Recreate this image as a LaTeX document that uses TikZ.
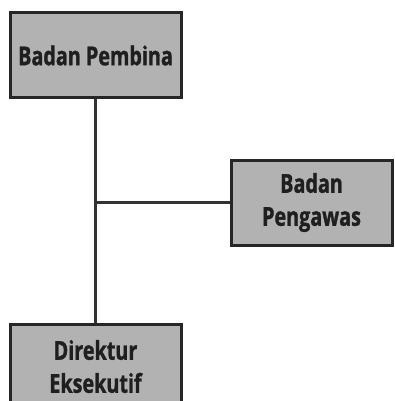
\documentclass[tikz,border=0pt]{standalone}
\usepackage{fontspec}
\setmainfont{Open Sans}[FakeStretch=0.76, BoldFeatures={FakeBold=1.2}]
\usetikzlibrary{positioning}

\begin{document}
\begin{tikzpicture}[x=1pt,y=-1pt,
  block/.style={draw=black!85, fill=black!30, line width=3pt, rectangle,
    minimum width=171pt, minimum height=85pt, align=center,
    font=\bfseries\fontsize{26}{33}\selectfont, text=black!88},
  link/.style={draw=black!80, line width=2.5pt}
]
    \useasboundingbox (0,0) rectangle (394,401);

    \node [block] (pembina) at (95.5,55.5) {Badan Pembina};

    \node [block, minimum width=161pt] (pengawas) at (311.5,202.5) {Badan\\Pengawas};

    \node [block] (direktur) at (95.5,366.5) {Direktur\\Eksekutif};

  \coordinate (cabang) at (pembina.south |- pengawas.west);
  \draw[link] (pembina) -- (direktur);
  \draw[link] (cabang) -- (pengawas);
\end{tikzpicture}
\end{document}
